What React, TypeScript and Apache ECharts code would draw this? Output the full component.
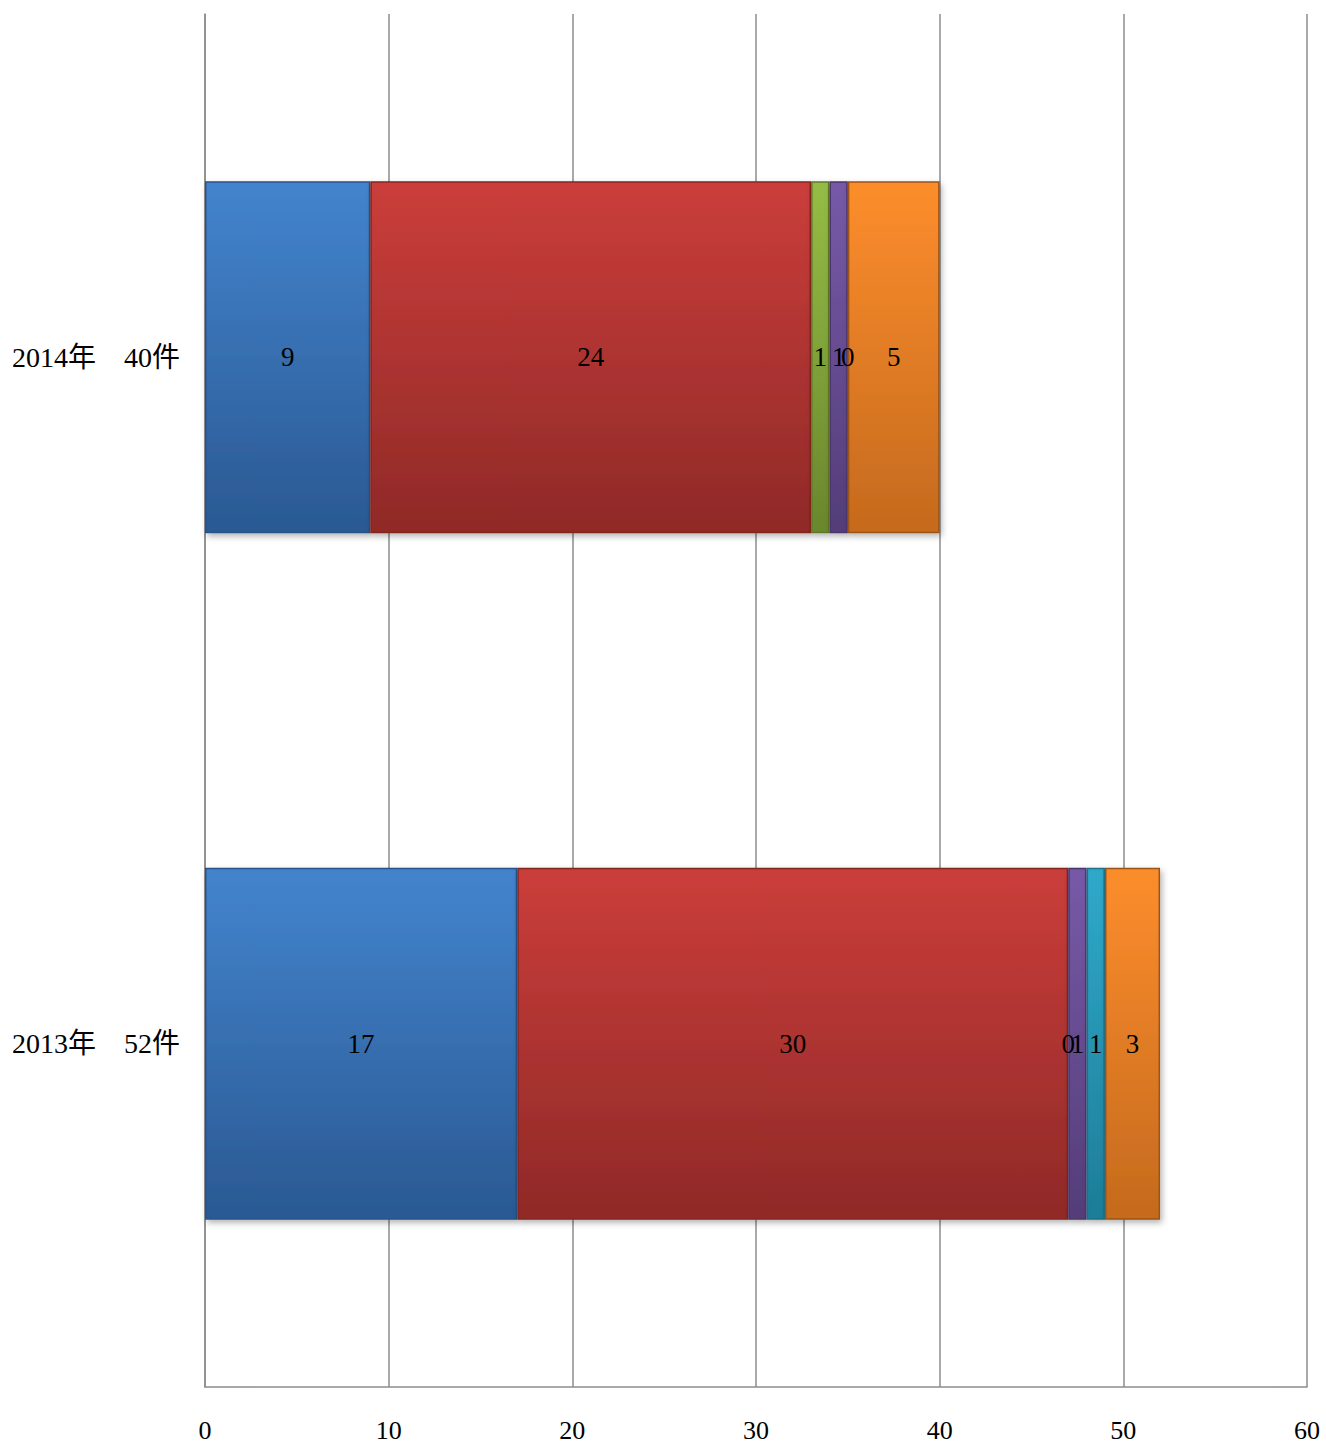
import React, { useEffect, useRef } from "react";
import * as echarts from "echarts";

const categories = ["2013年　52件", "2014年　40件"];
const seriesNames = ["系列1", "系列2", "系列3", "系列4", "系列5", "系列6"];
const seriesValues = [
  [17, 9],
  [30, 24],
  [0, 1],
  [1, 1],
  [1, 0],
  [3, 5],
];
const topColors = ["#4283cc", "#c93d3a", "#94bb44", "#7659a6", "#2fa8c9", "#fb8c2c"];
const bottomColors = ["#2b5a94", "#912a28", "#6b882e", "#553e7a", "#1e7e99", "#c66b1e"];
const edgeColors = ["#27538a", "#85251f", "#5f7a27", "#4b366d", "#1b6f88", "#9b5317"];
const xTicks = { min: 0, max: 60, interval: 10 };

const FONT = "'Liberation Serif', 'Noto Sans CJK JP', serif";

export default function App() {
  const ref = useRef<HTMLDivElement>(null);
  useEffect(() => {
    document.body.style.margin = "0";
    document.body.style.overflow = "hidden";
    document.documentElement.style.overflow = "hidden";
    if (!ref.current) return;
    const chart = echarts.init(ref.current, undefined, { renderer: "svg" });
    chart.setOption({
      animation: false,
      grid: { left: 205, right: 19, top: 14, bottom: 56, containLabel: false },
      xAxis: {
        type: "value",
        min: xTicks.min,
        max: xTicks.max,
        interval: xTicks.interval,
        axisLine: { show: true, lineStyle: { color: "#8c8c8c", width: 1.5 } },
        axisTick: { show: false },
        splitLine: { show: true, lineStyle: { color: "#8c8c8c", width: 1.5 } },
        axisLabel: { color: "#000", fontFamily: FONT, fontSize: 26, margin: 30 },
      },
      yAxis: {
        type: "category",
        data: categories,
        axisLine: { show: true, lineStyle: { color: "#8c8c8c", width: 1.5 } },
        axisTick: { show: false },
        axisLabel: { color: "#000", fontFamily: FONT, fontSize: 28, margin: 25 },
      },
      series: seriesNames.map((name, i) => ({
        name,
        type: "bar",
        stack: "total",
        barWidth: 352,
        data: seriesValues[i],
        itemStyle: {
          color: new echarts.graphic.LinearGradient(0, 0, 0, 1, [
            { offset: 0, color: topColors[i] },
            { offset: 0.03, color: topColors[i] },
            { offset: 0.97, color: bottomColors[i] },
            { offset: 1, color: bottomColors[i] },
          ]),
          borderColor: edgeColors[i],
          borderWidth: 1.5,
          shadowColor: "rgba(0,0,0,0.3)",
          shadowBlur: 6,
          shadowOffsetX: 2,
          shadowOffsetY: 3,
        },
        label: {
          show: true,
          position: "inside",
          color: "#000",
          fontFamily: FONT,
          fontSize: 27,
          formatter: (p: any) => String(p.value),
        },
      })),
    });
    return () => chart.dispose();
  }, []);
  return <div ref={ref} style={{ width: 1326, height: 1443 }} />;
}
